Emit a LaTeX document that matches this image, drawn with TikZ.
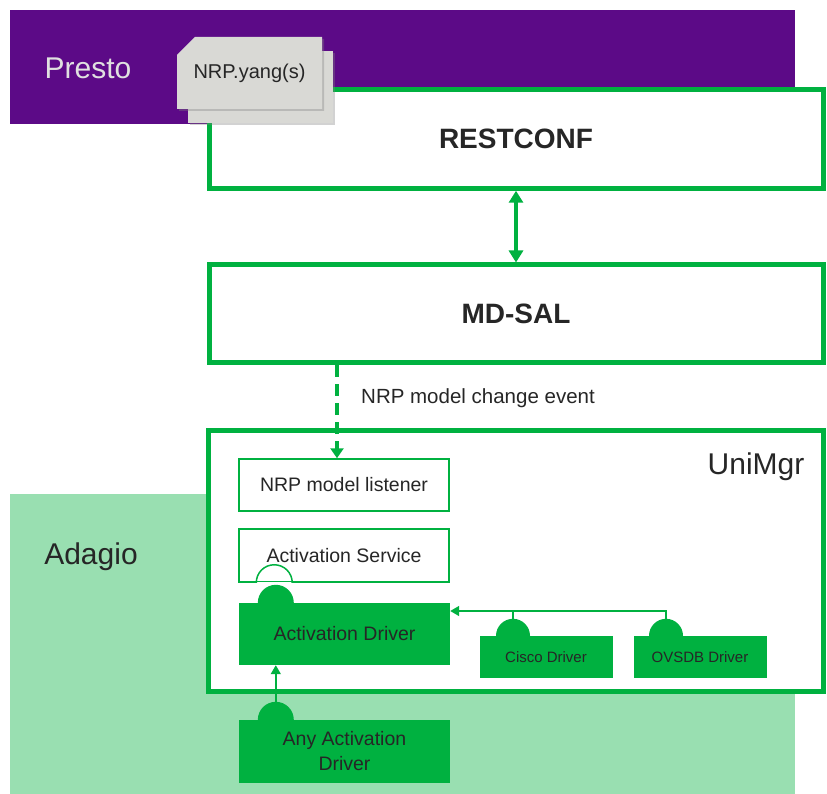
\documentclass[tikz,border=0pt]{standalone}
\usepackage{fontspec}
\setmainfont{Liberation Sans}
\usetikzlibrary{positioning}
\usetikzlibrary{arrows.meta}
\usetikzlibrary{shapes.misc}
\usetikzlibrary{shadows}
\definecolor{presto}{HTML}{5C0A87}
\definecolor{adagio}{HTML}{99DFB1}
\definecolor{odl}{HTML}{00B140}
\definecolor{card}{HTML}{D9D9D5}
\definecolor{ink}{HTML}{262626}
\tikzset{>={Triangle[length=12pt,width=14pt]}}
\tikzset{layer/.style={draw=odl, line width=5pt, fill=white, inner sep=0pt, text=ink, font=\fontsize{28}{32}\selectfont\bfseries}}
\tikzset{comp/.style={draw=odl, line width=1.5pt, fill=white, minimum width=210pt, inner sep=0pt, text=ink, font=\fontsize{19.5}{23}\selectfont}}
\tikzset{drv/.style={fill=odl, inner sep=0pt, text=black!85, font=\fontsize{19.5}{25}\selectfont, align=center}}
\tikzset{smalldrv/.style={drv, minimum width=133pt, minimum height=42pt, font=\fontsize{15}{18}\selectfont}}
\tikzset{yangcard/.style={fill=card, inner sep=0pt, minimum width=145pt, minimum height=72pt, drop shadow={shadow xshift=2pt, shadow yshift=-2pt, opacity=.35}}}
\tikzset{wire/.style={draw=odl, line width=1.5pt}}

\begin{document}
\begin{tikzpicture}[x=1pt, y=-1pt]
\useasboundingbox (0,0) rectangle (827,794);

% domains
\fill[presto] (10,10) rectangle (795,124);
\fill[adagio] (10,494) rectangle (795,794);
\node[text=black!12, font=\fontsize{30}{34}\selectfont] (presto) at (88,68) {Presto};
\node[text=ink, font=\fontsize{30}{34}\selectfont] (adagio) at (91,557) {Adagio};

% controller layers
\node[layer, minimum width=614pt, minimum height=98.5pt] (restconf) at (516,139) {RESTCONF};
\node[layer, minimum width=614pt, minimum height=97.5pt] (mdsal) at (516,313.75) {MD-SAL};
\node[layer, minimum width=615pt, minimum height=261pt] (unimgr) at (515.5,560.5) {};
\node[text=ink, font=\fontsize{30}{34}\selectfont] (unimgrlbl) at (756,467) {UniMgr};

% yang files
\node[yangcard] (yangback) at (260,87.5) {};
\node[yangcard, chamfered rectangle, chamfered rectangle corners=north west, chamfered rectangle xsep=9pt, chamfered rectangle ysep=9pt, text=ink, font=\fontsize{20}{24}\selectfont] (yang) at (249.5,73) {NRP.yang(s)};

% UniMgr parts
\node[comp, minimum height=52pt] (listener) at (344,485) {NRP model listener};
\node[comp, minimum height=53pt] (service) at (344,555.5) {Activation Service};
\node[drv, minimum width=211pt, minimum height=62pt] (actdrv) at (344.5,634) {Activation Driver};
\node[smalldrv] (cisco) at (546,657) {Cisco Driver};
\node[smalldrv] (ovsdb) at (700,657) {OVSDB Driver};
\node[drv, minimum width=211pt, minimum height=63pt] (anydrv) at (344.5,751.5) {Any Activation\\Driver};

% sockets and plugs
\draw[white, line width=2.5pt] ([xshift=18pt]service.south west) -- ([xshift=54pt]service.south west);
\draw[wire] ([xshift=18pt]service.south west) arc[start angle=180, end angle=0, radius=18pt];
\fill[odl] ([xshift=19pt]actdrv.north west) arc[start angle=180, end angle=0, radius=18pt] -- cycle;
\fill[odl] ([xshift=19pt]anydrv.north west) arc[start angle=180, end angle=0, radius=18pt] -- cycle;
\fill[odl] ([xshift=-50pt]cisco.north) arc[start angle=180, end angle=0, radius=17pt] -- cycle;
\fill[odl] ([xshift=-51pt]ovsdb.north) arc[start angle=180, end angle=0, radius=17pt] -- cycle;
\coordinate (ciscotop) at ([xshift=-33pt, yshift=17pt]cisco.north);
\coordinate (ovsdbtop) at ([xshift=-34pt, yshift=17pt]ovsdb.north);
\coordinate (anytop) at ([xshift=37pt, yshift=18pt]anydrv.north west);

% connectors
\draw[<->, odl, line width=4pt] (restconf.south) -- (mdsal.north);
\draw[->, odl, line width=4pt, dash pattern=on 12pt off 7pt, >={Triangle[length=10pt,width=13pt]}]
  ([xshift=-7pt]mdsal.south -| listener.north) -- ([xshift=-7pt]listener.north);
\node[text=ink, font=\fontsize{20.5}{24}\selectfont] (evtlbl) at (478,398) {NRP model change event};
\draw[wire, ->, >={Triangle[length=9pt,width=10pt]}] (ovsdbtop) |- ([yshift=23pt]actdrv.east);
\draw[wire] (ciscotop) -- ++(0,8pt);
\draw[wire, ->, >={Triangle[length=9pt,width=10pt]}] (anytop) -- ([xshift=37pt]actdrv.south west);
\end{tikzpicture}
\end{document}
